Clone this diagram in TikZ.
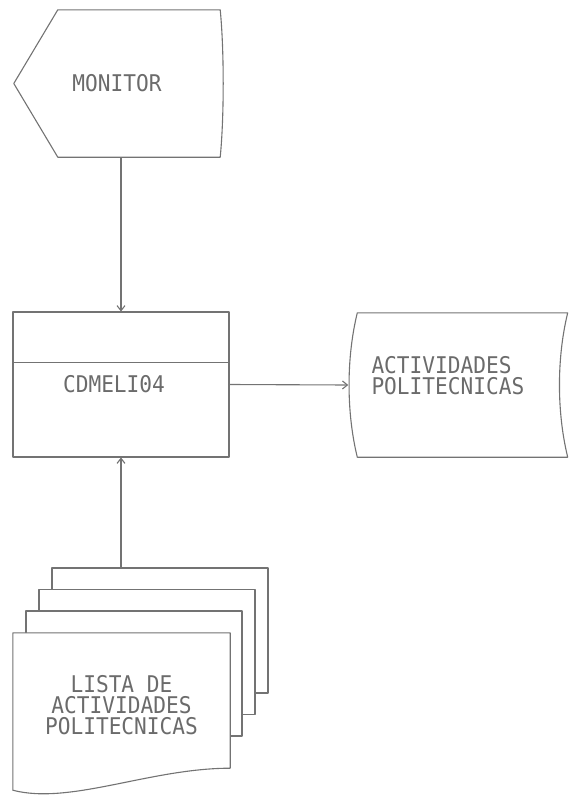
\documentclass[tikz,border=0pt]{standalone}
\usepackage{fontspec}
\newfontfamily\dotfont[FakeStretch=0.92]{DejaVu Sans Mono}
\usetikzlibrary{
  arrows.meta,   % for arrow tips
  backgrounds,   % for the stacked sheets
  positioning,
  calc           % for ($$)
}
\definecolor{ink}{gray}{0.45}
\definecolor{print}{gray}{0.42}
\tikzstyle{frame} = [rectangle, inner sep=0pt, text=print, font=\dotfont\fontsize{23}{21}\selectfont, align=center]
\tikzstyle{outline} = [draw=ink, line width=1.1pt, line join=round]
\tikzstyle{sheet} = [frame, outline, fill=white, minimum width=216pt, minimum height=125pt]
\tikzstyle{flow} = [draw=ink, line width=1.1pt, -{Straight Barb[length=5pt,width=8pt]}]

\begin{document}
\begin{tikzpicture}[x=1pt,y=-1pt]
\useasboundingbox (0,0) rectangle (571,803);

% display
\node[frame, minimum width=206pt, minimum height=147pt] (monitor) at (117,83.5) {MONITOR};
\draw[outline] (monitor.west) -- ($(monitor.north west)+(44,0)$) -- (monitor.north east)
  .. controls +(4,40) and +(4,-40) .. (monitor.south east) -- ($(monitor.south west)+(44,0)$) -- cycle;

% program
\node[frame, outline, minimum width=216pt, minimum height=145pt] (proc) at (121,384.5) {CDMELI04\hspace*{14pt}};
\draw[outline] ($(proc.north west)+(0,51)$) -- ($(proc.north east)+(0,51)$);

% stored data
\node[frame, minimum width=219pt, minimum height=144pt] (out) at (458,385) {};
\draw[outline] ($(out.north west)+(9,0)$) -- (out.north east)
  .. controls +(-11,45) and +(-11,-45) .. (out.south east) -- ($(out.south west)+(9,0)$)
  .. controls +(-11,-45) and +(-11,45) .. ($(out.north west)+(9,0)$) -- cycle;
\node[frame, align=left, anchor=west] (outtext) at ($(out.west)+(23,-9)$) {ACTIVIDADES\\POLITECNICAS};

% document stack
\node[frame, minimum width=217pt, minimum height=144pt] (lista) at (121.5,705) {LISTA DE\\ACTIVIDADES\\POLITECNICAS};
\begin{scope}[on background layer]
\node[sheet] (lista3) at (160,630.5) {};
\node[sheet] (lista2) at ($(lista3)+(-13,21.5)$) {};
\node[sheet] (lista1) at ($(lista2)+(-13,21.5)$) {};
\draw[outline, fill=white] (lista.north west) -- (lista.north east) -- ($(lista.south east)+(0,-9)$)
  .. controls +(-80,0) and +(57,15) .. ($(lista.south west)+(0,13)$) -- cycle;
\end{scope}

% connectors
\draw[flow] (monitor.south -| proc) -- (proc.north);
\draw[flow] (proc.east) -- (out.west);
\draw[flow] (proc.south |- lista3.north) -- (proc.south);
\end{tikzpicture}
\end{document}
